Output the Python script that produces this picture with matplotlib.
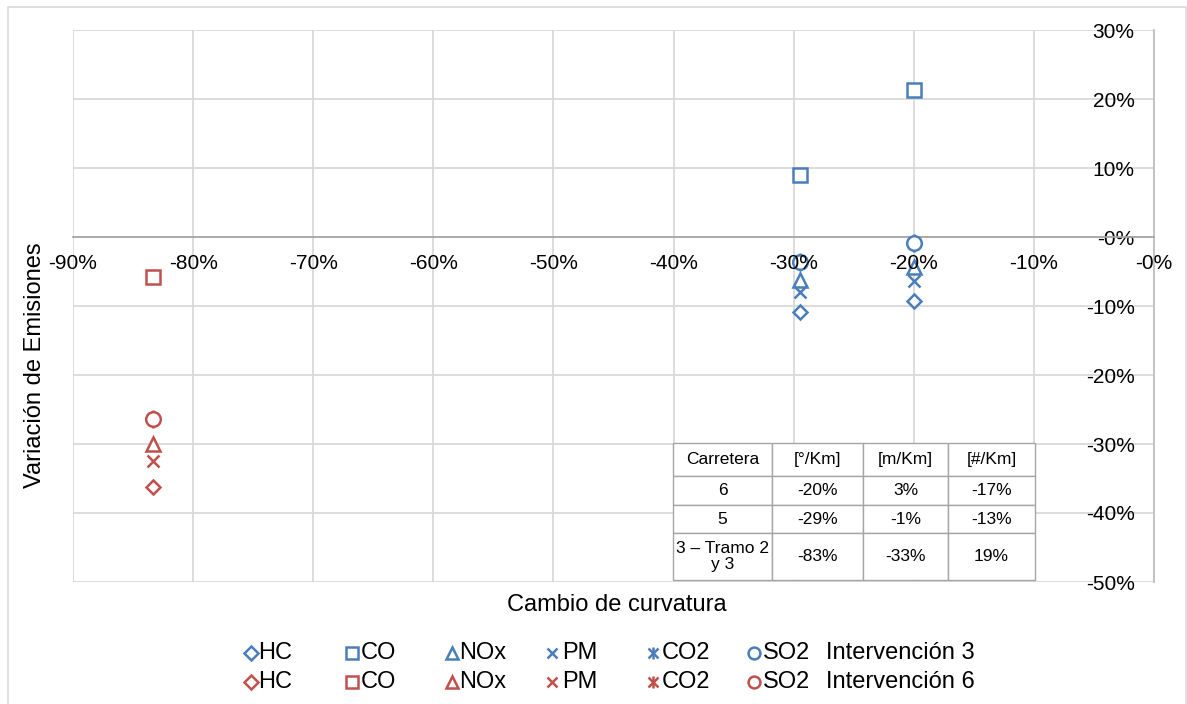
import numpy as np
import matplotlib
matplotlib.use("Agg")
import matplotlib.pyplot as plt
from matplotlib import font_manager
from matplotlib.lines import Line2D
from matplotlib.patches import Rectangle
from matplotlib.ticker import PercentFormatter

plt.rcParams['font.family'] = ['Liberation Sans', 'DejaVu Sans']
plt.rcParams['axes.unicode_minus'] = False

# cambio de curvatura por intervención
x_int3 = [-0.295, -0.20]
x_int6 = [-0.833]

# variación de emisiones (fracción) por contaminante
contaminantes = ['HC', 'CO', 'NOx', 'PM', 'CO2', 'SO2']
int3 = {
    'HC':  [-0.109, -0.093],
    'CO':  [0.090, 0.213],
    'NOx': [-0.062, -0.043],
    'PM':  [-0.080, -0.064],
    'CO2': [-0.036, -0.008],
    'SO2': [-0.036, -0.008],
}
int6 = {
    'HC':  [-0.362],
    'CO':  [-0.058],
    'NOx': [-0.300],
    'PM':  [-0.325],
    'CO2': [-0.264],
    'SO2': [-0.264],
}

tabla_cols = ['Carretera', '[°/Km]', '[m/Km]', '[#/Km]']
tabla_filas = [
    ['6', '-20%', '3%', '-17%'],
    ['5', '-29%', '-1%', '-13%'],
    ['3 – Tramo 2\ny 3', '-83%', '-33%', '19%'],
]

azul = '#4A7EBB'
rojo = '#C0504D'
marcadores = {'HC': 'D', 'CO': 's', 'NOx': '^', 'PM': 'x', 'CO2': 'x', 'SO2': 'o'}
tamanos = {'HC': 7.5, 'CO': 10, 'NOx': 9.5, 'PM': 9, 'CO2': 7, 'SO2': 10.5}

W, H = 1187, 704
pos_ejes = [73 / W, 1 - 582 / H, 1081 / W, 552 / H]
fig = plt.figure(figsize=(W / 100, H / 100), dpi=100)
ax = fig.add_axes(pos_ejes)

# marco del gráfico
fig.add_artist(Rectangle((8 / W, -0.02), 1178 / W, 1 - 7 / H + 0.02,
                         transform=fig.transFigure, fill=False,
                         edgecolor='#D9D9D9', lw=1.2, zorder=0))


def dibujar(xs, datos, color):
    for c in contaminantes:
        if c == 'CO2':
            ax.plot(xs, datos[c], ls='none', marker='|', ms=13.5,
                    mec=color, mew=1.8, zorder=3)
        ax.plot(xs, datos[c], ls='none', marker=marcadores[c], ms=tamanos[c],
                mfc='white', mec=color, mew=1.8, zorder=3)


dibujar(x_int3, int3, azul)
dibujar(x_int6, int6, rojo)

ax.set_xlim(-0.9, 0)
ax.set_ylim(-0.5, 0.3)
ax.set_xticks(np.arange(-0.9, 0.01, 0.1))
ax.set_yticks(np.arange(-0.5, 0.31, 0.1))
ax.yaxis.set_major_formatter(PercentFormatter(1.0, decimals=0))
ax.grid(True, color='#D9D9D9', lw=1.3, zorder=0)
ax.set_axisbelow(True)

for s in ['top', 'left']:
    ax.spines[s].set_visible(False)
ax.spines['bottom'].set_position(('data', 0))
ax.spines['bottom'].set_color('#A6A6A6')
ax.spines['bottom'].set_linewidth(1.3)
ax.spines['right'].set_color('#BFBFBF')
ax.spines['right'].set_linewidth(1.3)

ax.yaxis.tick_right()
ax.tick_params(axis='both', length=0, labelsize=15)
ax.tick_params(axis='x', labelbottom=False)
ax.tick_params(axis='y', pad=-14)
for lab in ax.get_yticklabels():
    lab.set_horizontalalignment('right')

# etiquetas del eje X por encima de los marcadores
ax_x = fig.add_axes(pos_ejes, sharex=ax, sharey=ax, zorder=5)
ax_x.patch.set_visible(False)
for s in ax_x.spines.values():
    s.set_visible(False)
ax_x.spines['bottom'].set_position(('data', 0))
ax_x.xaxis.set_major_formatter(PercentFormatter(1.0, decimals=0))
ax_x.tick_params(axis='x', length=0, labelsize=15, pad=12)
ax_x.tick_params(axis='y', left=False, right=False, labelleft=False, labelright=False)

fig.text(35 / W, 1 - 365 / H, 'Variación de Emisiones', rotation=90,
         ha='center', va='center', fontsize=17)
fig.text(617 / W, 1 - 605 / H, 'Cambio de curvatura',
         ha='center', va='center', fontsize=17)

# tabla de características de las carreteras
instaladas = {f.name for f in font_manager.fontManager.ttflist}
fuente_tabla = ['Liberation Sans Narrow'] if 'Liberation Sans Narrow' in instaladas else ['Liberation Sans']
tabla = ax_x.table(cellText=tabla_filas, colLabels=tabla_cols,
                   cellLoc='center', colWidths=[99, 91, 85, 87],
                   bbox=[(673 - 73) / 1081, 2 / 552, 362 / 1081, 137 / 552])
tabla.auto_set_font_size(False)
alturas = [33, 29, 28, 47]
for (r, c), celda in tabla.get_celld().items():
    celda.set_height(alturas[r])
    celda.set_edgecolor('#A6A6A6')
    celda.set_linewidth(1.0)
    celda.set_facecolor('white')
    celda.get_text().set_fontsize(12.5)
    celda.get_text().set_fontfamily(fuente_tabla)
    celda.get_text().set_linespacing(1.05)

# leyenda en dos filas: marcador + texto
pos_marca = [251, 352, 452, 552, 653, 754]
pos_texto = [258, 361, 459, 562, 662, 763]
tam_leyenda = {'HC': 7, 'CO': 8.5, 'NOx': 8.5, 'PM': 7.5, 'CO2': 7.5, 'SO2': 8.5}


def fila_leyenda(color, etiqueta, y):
    yf = 1 - y / H
    for c, xm, xt in zip(contaminantes, pos_marca, pos_texto):
        if c == 'CO2':
            fig.add_artist(Line2D([xm / W], [yf], transform=fig.transFigure,
                                  ls='none', marker='|', ms=9,
                                  mec=color, mew=1.8))
        fig.add_artist(Line2D([xm / W], [yf], transform=fig.transFigure,
                              ls='none', marker=marcadores[c], ms=tam_leyenda[c],
                              mfc='none', mec=color, mew=1.8))
        fig.text(xt / W, yf, c, ha='left', va='center', fontsize=17)
    fig.text(826 / W, yf, etiqueta, ha='left', va='center', fontsize=17)


fila_leyenda(azul, 'Intervención 3', 653)
fila_leyenda(rojo, 'Intervención 6', 682)

fig.savefig('out.png', dpi=100, facecolor='white')
